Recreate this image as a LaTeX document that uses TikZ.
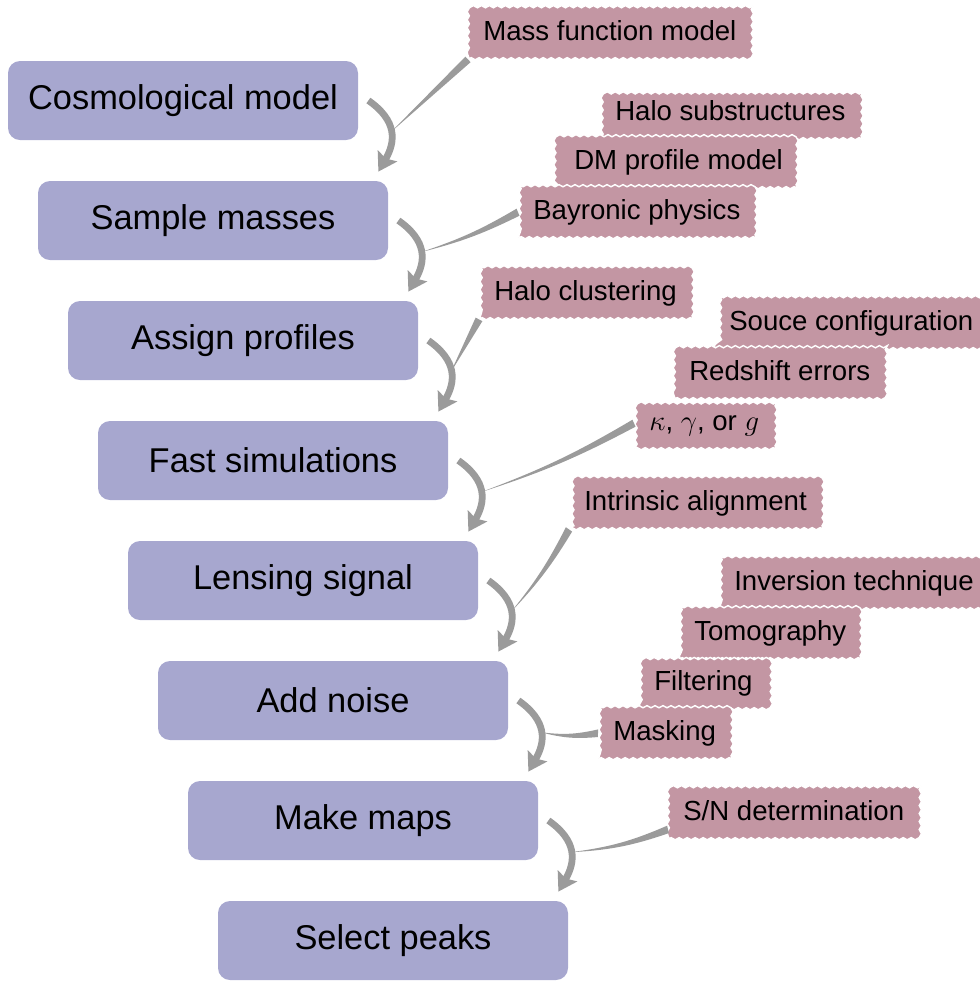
\documentclass[tikz,border=0pt]{standalone}
\usepackage{fontspec}
\setmainfont{Liberation Sans}
\usetikzlibrary{arrows.meta,calc,decorations.pathmorphing}
\definecolor{Lavender}{HTML}{A7A7CF}
\definecolor{Mauve}{HTML}{C396A3}
\definecolor{LinkGrey}{HTML}{9B9B9B}
% tapered link from a flow arrow to its factor box
\newcommand{\taper}[3]{%
  \fill[LinkGrey] (#1) to[bend left=#3] ($(#2)!1.9pt!90:(#1)$) -- ($(#2)!1.9pt!-90:(#1)$) to[bend right=#3] (#1);}

\begin{document}
\begin{tikzpicture}[
  x=0.5pt,y=0.5pt,
  stage/.style={rounded corners=6pt,fill=Lavender,minimum width=175pt,minimum height=39.5pt,
    font=\fontsize{17.2}{20}\selectfont},
  factor/.style={anchor=north west,fill=Mauve,draw=white,line width=0.7pt,
    decorate,decoration={snake,segment length=4pt,amplitude=0.55pt},
    inner xsep=7.3pt,minimum height=25.5pt,text height=10pt,text depth=3pt,
    font=\fontsize{13.8}{16}\selectfont},
  flow/.style={-{Stealth[length=9pt,width=11pt,inset=1.5pt]},line width=3.4pt,LinkGrey},
  swing/.style={out=-35,in=60,looseness=1.25}
]
\useasboundingbox (0,0) rectangle (980,-981);

\node[stage] (cosmo) at (183,-100.5) {Cosmological model};
\node[stage] (sample) at (213,-220.5) {Sample masses};
\node[stage] (assign) at (243,-340.5) {Assign profiles};
\node[stage] (fastsim) at (273,-460.5) {Fast simulations};
\node[stage] (lensing) at (303,-580.5) {Lensing signal};
\node[stage] (noise) at (333,-700.5) {Add noise};
\node[stage] (maps) at (363,-820.5) {Make maps};
\node[stage] (peaks) at (393,-940.5) {Select peaks};

\node[factor] (massfn) at (468,-7) {Mass function model};
\node[factor] (halosub) at (600,-87) {Halo substructures};
\node[factor] (dmprof) at (559,-136) {DM profile model};
\node[factor] (baryon) at (518,-186) {Bayronic physics};
\node[factor] (cluster) at (479,-267) {Halo clustering};
\node[factor] (source) at (714,-297) {Souce configuration};
\node[factor] (redshift) at (674,-347) {Redshift errors};
\node[factor] (shear) at (634,-397) {$\kappa$, $\gamma$, or $g$};
\node[factor] (intrinsic) at (569,-477) {Intrinsic alignment};
\node[factor] (inversion) at (719,-557) {Inversion technique};
\node[factor] (tomo) at (679,-607) {Tomography};
\node[factor] (filter) at (639,-657) {Filtering};
\node[factor] (masking) at (598,-707) {Masking};
\node[factor] (snr) at (668,-787) {S/N determination};

\draw[flow] ([xshift=5pt]cosmo.east) to[swing] coordinate[pos=.5] (m1) ([shift={(-5pt,4.5pt)}]sample.north east);
\draw[flow] ([xshift=5pt]sample.east) to[swing] coordinate[pos=.5] (m2) ([shift={(-5pt,4.5pt)}]assign.north east);
\draw[flow] ([xshift=5pt]assign.east) to[swing] coordinate[pos=.5] (m3) ([shift={(-5pt,4.5pt)}]fastsim.north east);
\draw[flow] ([xshift=5pt]fastsim.east) to[swing] coordinate[pos=.5] (m4) ([shift={(-5pt,4.5pt)}]lensing.north east);
\draw[flow] ([xshift=5pt]lensing.east) to[swing] coordinate[pos=.5] (m5) ([shift={(-5pt,4.5pt)}]noise.north east);
\draw[flow] ([xshift=5pt]noise.east) to[swing] coordinate[pos=.5] (m6) ([shift={(-5pt,4.5pt)}]maps.north east);
\draw[flow] ([xshift=5pt]maps.east) to[swing] coordinate[pos=.5] (m7) ([shift={(-5pt,4.5pt)}]peaks.north east);

\taper{m1}{massfn.south west}{0}
\taper{m2}{baryon.west}{-6}
\taper{m3}{cluster.south west}{0}
\taper{m4}{shear.west}{-5}
\taper{m5}{intrinsic.south west}{-6}
\taper{m6}{masking.west}{-10}
\taper{m7}{[yshift=5pt]snr.south west}{-8}
\end{tikzpicture}
\end{document}
